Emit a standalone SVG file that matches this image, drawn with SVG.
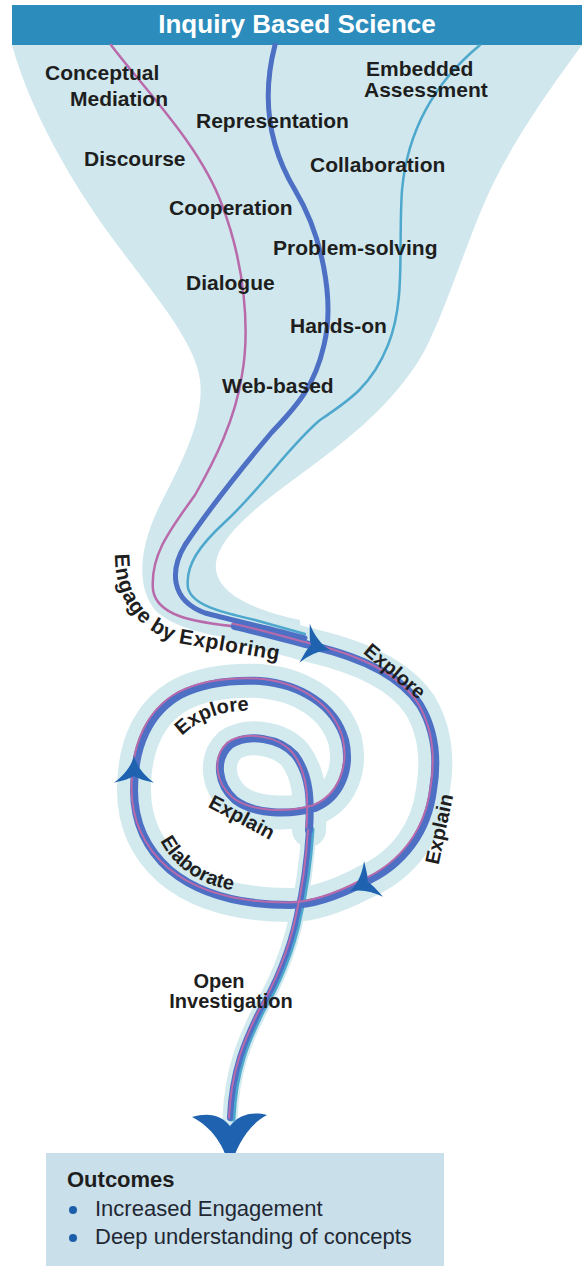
<svg xmlns="http://www.w3.org/2000/svg" width="582" height="1272" viewBox="0 0 582 1272">
<style>
  .lbl{font-family:"Liberation Sans",Arial,sans-serif;font-weight:bold;font-size:21px;fill:#1e1e1e}
  .sp{font-size:20px}
  .out{font-family:"Liberation Sans",Arial,sans-serif;font-size:22px;fill:#1f2833}
  .band{fill:none;stroke:#d2eaee;stroke-linecap:round;stroke-linejoin:round}
  .blue{fill:none;stroke:#4d70c5;stroke-width:8;stroke-linecap:round;stroke-linejoin:round}
  .mag{fill:none;stroke:#b96aab;stroke-width:2.5;stroke-linecap:round}
  .teal{fill:none;stroke:#4ea7cc;stroke-width:2.5;stroke-linecap:round}
  .ah{fill:#1f63b0}
</style>
<defs>
  <path id="ah" d="M 12,0 C 4,-2 -3,-8 -8,-15 C -6,-7 -5,-3 -3,0 C -5,3 -6,7 -8,15 C -3,8 4,2 12,0 Z"/>
  <path id="spiral" d="M 235,626 C 262,632 290,640 313,646 C 360,657 400,675 420,705 C 435,730 438,760 433,790 C 428,830 405,865 363,883 C 340,895 315,905 290,905 C 240,905 200,895 170,870 C 145,848 134,820 134,790 C 134,745 150,712 180,695 C 205,682 235,680 260,681 C 300,684 335,705 345,740 C 352,770 340,798 315,808 C 290,815 255,815 235,800 C 218,785 214,760 230,745 C 248,733 280,738 295,755 C 310,775 311,800 309,830"/>
  <path id="stem" d="M 309,830 C 307,860 303,890 297,915 C 290,950 275,985 260,1010 C 245,1040 232,1070 230,1118"/>
  <path id="engPath" d="M 115,552 C 114,596 135,630 178,643 L 300,664"/>
  <path id="elabPath" d="M 152,812 C 155,840 170,862 195,877 C 215,889 240,893 275,894"/>
  <path id="explInPath" d="M 165,765 C 172,740 195,718 230,712 C 245,710 260,710 285,713"/>
</defs>
<rect width="582" height="1272" fill="#ffffff"/>

<g id="funnel">
  <path d="M 12,45 L 582,45 C 560,75 520,130 495,180 C 470,230 450,300 425,350 C 400,395 360,430 320,460 C 280,490 235,520 220,550 C 205,580 230,605 300,620 L 300,648 C 240,640 180,635 155,610 C 135,585 140,545 160,505 C 180,465 205,420 200,380 C 195,340 150,290 110,235 C 70,180 30,110 12,45 Z" fill="#d0e8ed"/>
</g>

<g id="header">
  <rect x="12" y="5" width="570" height="40" fill="#2c8dbd"/>
  <text x="297" y="33" text-anchor="middle" style="font-family:'Liberation Sans',Arial,sans-serif;font-weight:bold;font-size:26px;fill:#ffffff">Inquiry Based Science</text>
</g>

<g id="connectors">
  <use href="#spiral" class="band" style="stroke-width:34"/>
  <use href="#stem" class="band" style="stroke-width:15"/>
  <path class="mag" d="M 111,45 C 145,90 200,145 222,205 C 245,265 250,330 242,375 C 235,420 215,460 195,495 C 170,530 150,555 153,590 C 157,615 190,622 240,627 L 300,638"/>
  <path class="teal" d="M 480,45 C 440,78 408,125 402,190 C 398,250 406,300 388,345 C 372,385 350,400 320,420 C 290,445 260,490 225,522 C 200,545 185,565 188,588 C 192,605 220,612 255,620 L 305,634"/>
  <path fill="none" stroke="#4d70c5" stroke-width="5" stroke-linecap="round" d="M 275,45 C 262,95 268,145 295,190 C 322,235 335,300 324,345 C 315,385 298,405 272,432 C 240,470 205,515 185,545 C 170,570 170,600 205,613 C 230,620 270,628 305,638"/>
  <use href="#stem" class="teal" transform="translate(2,0)" style="stroke-width:7"/>
  <use href="#spiral" class="blue"/>
  <use href="#stem" class="blue" style="stroke-width:6"/>
  <use href="#spiral" class="mag" transform="translate(-2.5,-2.5)" style="stroke-width:2"/>
  <use href="#stem" class="mag" transform="translate(-1,0)" style="stroke-width:2"/>
  <use href="#ah" class="ah" transform="translate(315,646) rotate(15) scale(1.35)"/>
  <use href="#ah" class="ah" transform="translate(364,884) rotate(152) scale(1.35)"/>
  <use href="#ah" class="ah" transform="translate(134,772) rotate(-90) scale(1.35)"/>
  <path class="ah" d="M 230,1170 C 225,1146 212,1127 192,1117 C 210,1112 222,1116 230,1126 C 238,1116 250,1111 267,1115 C 248,1125 236,1146 230,1170 Z"/>
</g>

<g id="label-conceptual-mediation">
  <text class="lbl" x="45" y="80">Conceptual</text>
  <text class="lbl" x="70" y="106">Mediation</text>
</g>
<g id="label-embedded-assessment">
  <text class="lbl" x="366" y="76">Embedded</text>
  <text class="lbl" x="364" y="97">Assessment</text>
</g>
<g id="label-representation"><text class="lbl" x="196" y="128">Representation</text></g>
<g id="label-discourse"><text class="lbl" x="84" y="166">Discourse</text></g>
<g id="label-collaboration"><text class="lbl" x="310" y="172">Collaboration</text></g>
<g id="label-cooperation"><text class="lbl" x="169" y="215">Cooperation</text></g>
<g id="label-problem-solving"><text class="lbl" x="273" y="255">Problem-solving</text></g>
<g id="label-dialogue"><text class="lbl" x="186" y="290">Dialogue</text></g>
<g id="label-hands-on"><text class="lbl" x="290" y="333">Hands-on</text></g>
<g id="label-web-based"><text class="lbl" x="222" y="393">Web-based</text></g>

<g id="label-engage">
  <text class="lbl" style="letter-spacing:0.6px"><textPath href="#engPath" startOffset="2">Engage by Exploring</textPath></text>
</g>
<g id="label-explore-outer">
  <text class="lbl sp" text-anchor="middle" transform="translate(395,671) rotate(40)" x="0" y="7">Explore</text>
</g>
<g id="label-explore-inner">
  <text class="lbl sp"><textPath href="#explInPath" startOffset="34">Explore</textPath></text>
</g>
<g id="label-explain-inner">
  <text class="lbl sp" text-anchor="middle" transform="translate(242,817) rotate(28)" x="0" y="7">Explain</text>
</g>
<g id="label-elaborate">
  <text class="lbl sp"><textPath href="#elabPath" startOffset="30">Elaborate</textPath></text>
</g>
<g id="label-explain-outer">
  <text class="lbl sp" text-anchor="middle" transform="translate(439,829) rotate(-78)" x="0" y="7">Explain</text>
</g>
<g id="label-open-investigation">
  <text class="lbl sp" x="219" y="988" text-anchor="middle">Open</text>
  <text class="lbl sp" x="231" y="1008" text-anchor="middle">Investigation</text>
</g>

<g id="outcomes">
  <rect x="46" y="1153" width="398" height="113" fill="#c9dfea"/>
  <text class="lbl" x="67" y="1187" style="font-size:22px">Outcomes</text>
  <circle cx="73" cy="1210" r="4" fill="#1c5fa8"/>
  <circle cx="73" cy="1238" r="4" fill="#1c5fa8"/>
  <text class="out" x="95" y="1216">Increased Engagement</text>
  <text class="out" x="95" y="1244">Deep understanding of concepts</text>
</g>
</svg>
